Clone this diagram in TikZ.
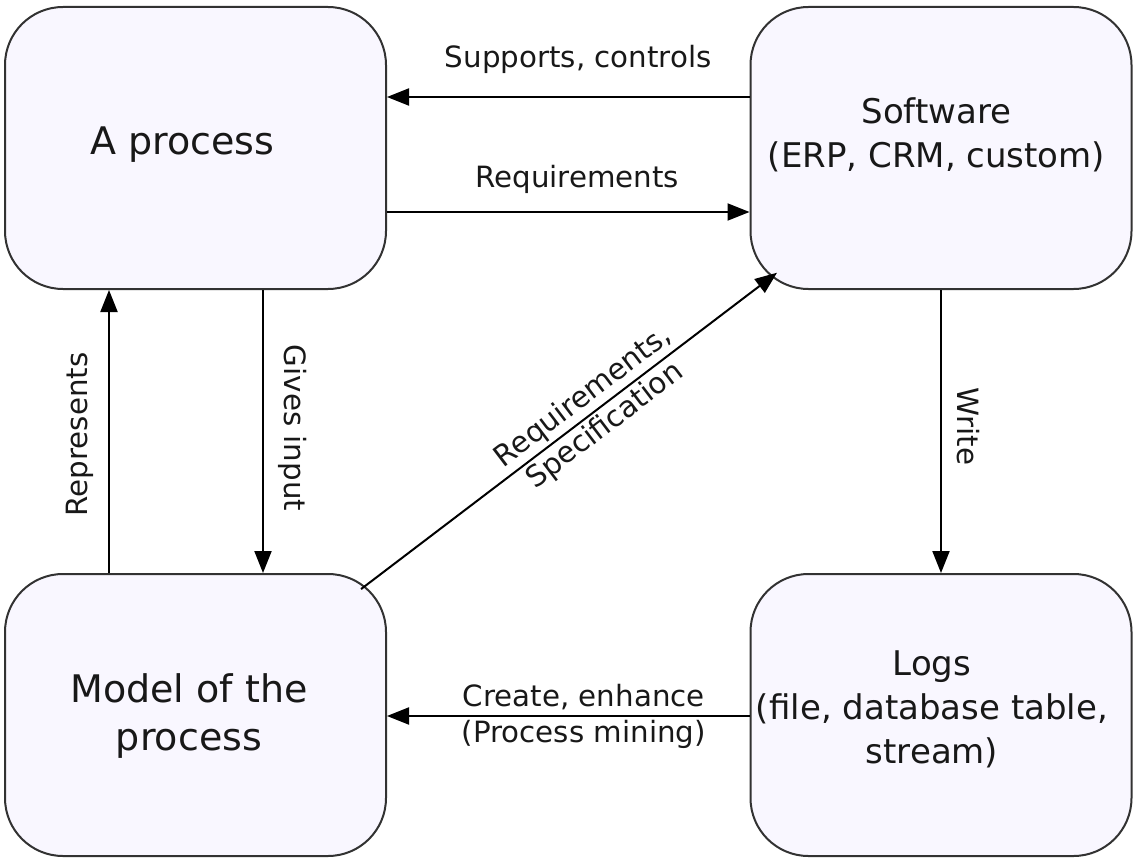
\documentclass[tikz,border=0pt]{standalone}
\usepackage{fontspec}
\setmainfont{DejaVu Sans}
\usetikzlibrary{arrows.meta}
\definecolor{boxfill}{RGB}{249,247,255}
\definecolor{boxline}{RGB}{50,50,50}
\definecolor{ink}{RGB}{24,24,24}

\begin{document}
\begin{tikzpicture}[x=1pt,y=-1pt,
  stage/.style={draw=boxline, line width=2pt, fill=boxfill, rounded corners=58pt,
    minimum width=381pt, minimum height=282pt, inner sep=0pt},
  bigtext/.style={text=ink, font=\fontsize{38}{48}\selectfont, align=center, inner sep=0pt},
  midtext/.style={text=ink, font=\fontsize{34}{44}\selectfont, align=center, inner sep=0pt},
  lbl/.style={text=ink, font=\fontsize{29.3}{36}\selectfont, align=center, inner sep=0pt},
  flow/.style={draw=black, line width=2pt, -{Triangle[length=22pt,width=17pt]}}
]
\useasboundingbox (0,0) rectangle (1133,859);

% the four stages
\node[stage] (proc)  at (195.5,148) {};
\node[stage] (soft)  at (941,148)   {};
\node[stage] (model) at (195.5,715) {};
\node[stage] (logs)  at (941,715)   {};

% their captions (base anchor = baseline of the last line)
\node[bigtext, anchor=base] (proc-t)  at (182.5,154) {A process};
\node[midtext, anchor=base] (soft-t)  at (936.5,167) {Software\\(ERP, CRM, custom)};
\node[bigtext, anchor=base] (model-t) at (189,750)   {Model of the\\process};
\node[midtext, anchor=base] (logs-t)  at (932,763)   {Logs\\(file, database table,\\stream)};

% connectors between the stages
\draw[flow] ([yshift=51pt]soft.west) -- ([yshift=51pt]proc.east)
  node[lbl, pos=0.4725, anchor=base, yshift=29pt] (e-sup) {Supports, controls};
\draw[flow] ([yshift=-64pt]proc.east) -- ([yshift=-64pt]soft.west)
  node[lbl, pos=0.525, anchor=base, yshift=25pt] (e-req) {Requirements};
\draw[flow] ([xshift=-86.5pt]model.north) -- ([xshift=-86.5pt]proc.south);
\node[lbl, rotate=90, anchor=base] (e-rep) at (87,434.5) {Represents};
\draw[flow] ([xshift=67.5pt]proc.south) -- ([xshift=67.5pt]model.north);
\node[lbl, rotate=-90, anchor=base] (e-giv) at (284,428) {Gives input};
\draw[flow] (soft.south) -- (logs.north);
\node[lbl, rotate=-90, anchor=base] (e-wri) at (957,426.5) {Write};
\draw[flow] ([yshift=-1pt]logs.west) -- ([yshift=-1pt]model.east)
  node[lbl, pos=0.457] (e-cre) {Create, enhance\\(Process mining)};
% centre to centre, stopping on the rounded corners
\draw[flow, shorten <=208pt, shorten >=206pt] (model.center) -- (soft.center)
  node[lbl, sloped, pos=0.535] (e-spec) {Requirements,\\Specification};
\end{tikzpicture}
\end{document}
